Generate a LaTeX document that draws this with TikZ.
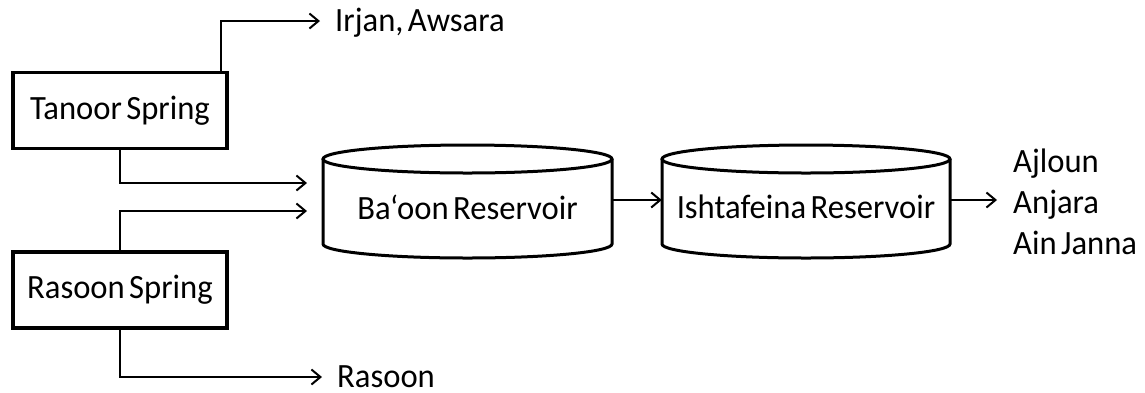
\documentclass[tikz,border=0pt]{standalone}
\usepackage{fontspec}
\setmainfont{Carlito}[FakeStretch=0.96, WordSpace=0.6]
\usetikzlibrary{arrows.meta}
\begin{document}
\begin{tikzpicture}[x=1pt,y=-1pt,
  txt/.style={font=\fontsize{34}{41}\selectfont},
  box/.style={txt, draw, line width=3.5pt, minimum width=214pt, minimum height=76pt, inner sep=0pt},
  outlbl/.style={txt, anchor=west, inner xsep=15pt, inner ysep=0pt, text height=20pt, text depth=0pt},
  conn/.style={line width=2pt, -{Straight Barb[length=9pt,width=15pt,line width=2pt]}},
  cylline/.style={line width=3pt}]
\useasboundingbox (0,0) rectangle (1145,392);
% spring boxes
\node[box] (tanoor) at (120,110.5) {Tanoor Spring};
\node[box] (rasoon) at (120,290) {Rasoon Spring};
% reservoirs (cylinders)
\draw[cylline] (467.5,159) ellipse [x radius=144.5pt, y radius=14pt];
\draw[cylline] (323,159) -- (323,244) arc[start angle=180, end angle=360, x radius=144.5pt, y radius=14pt] -- (612,159);
\node[txt, minimum width=289pt, minimum height=113pt, inner sep=0pt] (baoon) at (467.5,201.5) {};
\node[txt, inner sep=0pt] (baoontxt) at (467.5,207) {Ba‘oon Reservoir};
\draw[cylline] (806,159) ellipse [x radius=144pt, y radius=14pt];
\draw[cylline] (662,159) -- (662,244) arc[start angle=180, end angle=360, x radius=144pt, y radius=14pt] -- (950,159);
\node[txt, minimum width=288pt, minimum height=113pt, inner sep=0pt] (ishta) at (806,201.5) {};
\node[txt, inner sep=0pt] (ishtatxt) at (806,207) {Ishtafeina Reservoir};
% output labels
\node[outlbl] (irjan) at (320,21) {Irjan, Awsara};
\node[outlbl] (rasoonout) at (322,377) {Rasoon};
\node[txt, anchor=west, inner xsep=16pt, inner ysep=0pt, align=left] (towns) at (997,202) {Ajloun\\Anjara\\Ain Janna};
% connector ends at the Ba'oon reservoir
\coordinate (bin1) at (307,183);
\coordinate (bin2) at (307,211);
% connectors
\draw[conn] ([xshift=101pt]tanoor.north) |- (irjan.west);
\draw[conn] (tanoor.south) |- (bin1);
\draw[conn] (rasoon.north) |- (bin2);
\draw[conn] (rasoon.south) |- (rasoonout.west);
\draw[conn] (baoon.east |- 0,200) -- (ishta.west |- 0,200);
\draw[conn] (ishta.east |- 0,200) -- (towns.west |- 0,200);
\end{tikzpicture}
\end{document}
